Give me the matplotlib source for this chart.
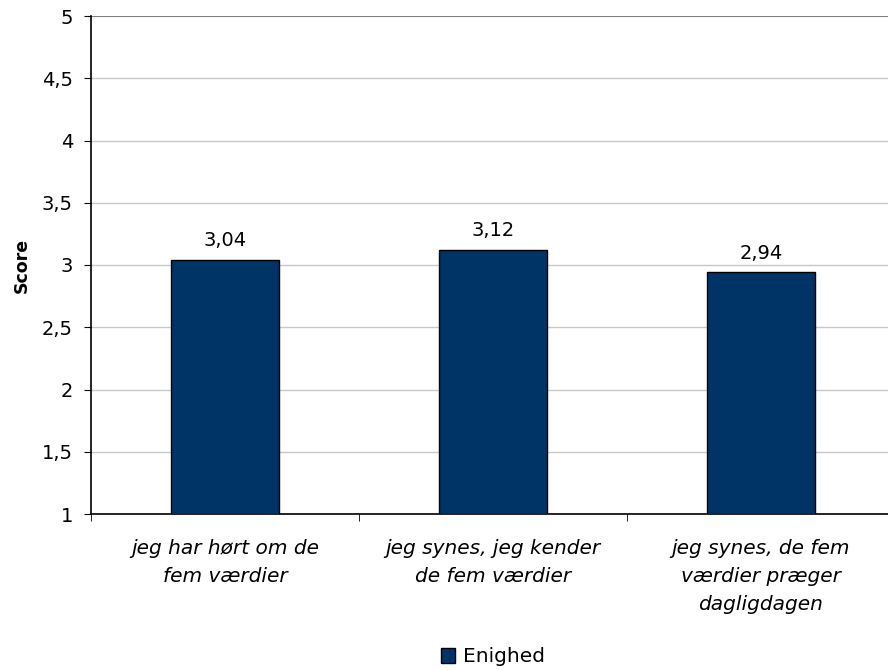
import matplotlib
matplotlib.use('Agg')
import matplotlib.pyplot as plt
import numpy as np

categories = ['jeg har hørt om de\nfem værdier',
              'jeg synes, jeg kender\nde fem værdier',
              'jeg synes, de fem\nværdier præger\ndagligdagen']
scores = [3.04, 3.12, 2.94]
yticks = [1, 1.5, 2, 2.5, 3, 3.5, 4, 4.5, 5]
ytick_labels = ['1', '1,5', '2', '2,5', '3', '3,5', '4', '4,5', '5']
series_name = 'Enighed'

plt.rcParams['font.family'] = 'DejaVu Sans'
fig = plt.figure(figsize=(8.88, 6.7), dpi=100)
ax = fig.add_axes([91/888, 1 - 514/670, 804/888, 498/670])

x = np.arange(len(categories))
bars = ax.bar(x, [s - 1 for s in scores], bottom=1, width=0.40,
              color='#003366', edgecolor='black', linewidth=1, zorder=3,
              label=series_name)
for xi, s in zip(x, scores):
    ax.text(xi, s + 0.08, f'{s:.2f}'.replace('.', ','), ha='center', va='bottom', fontsize=14)

ax.set_ylim(1, 5)
ax.set_xlim(-0.5, len(categories) - 0.5)
ax.set_yticks(yticks)
ax.set_yticklabels(ytick_labels, fontsize=14)
for y in yticks[1:-1]:
    ax.axhline(y, color='#c8c8c8', linewidth=1, zorder=1)
ax.axhline(5, color='#808080', linewidth=1.5, zorder=1)

ax.set_xticks(x)
ax.set_xticklabels(categories, fontsize=14.5, style='italic', linespacing=1.6)
ax.tick_params(axis='x', length=0, pad=18)
ax.set_xticks(np.arange(len(categories) + 1) - 0.5, minor=True)
ax.tick_params(axis='x', which='minor', length=5, direction='out')
ax.tick_params(axis='y', length=5, direction='out', pad=8)

for side in ['top', 'right']:
    ax.spines[side].set_visible(False)
ax.spines['left'].set_linewidth(1.2)
ax.spines['bottom'].set_linewidth(1.2)

ax.set_ylabel('Score', fontsize=12.5, fontweight='bold', labelpad=8)

fig.legend(handles=[bars], labels=[series_name], loc='center',
           bbox_to_anchor=(493/888, 1 - 657/670), frameon=False,
           fontsize=14.5, handlelength=0.7, handleheight=0.7, handletextpad=0.4)

fig.savefig('out.png', dpi=100)
